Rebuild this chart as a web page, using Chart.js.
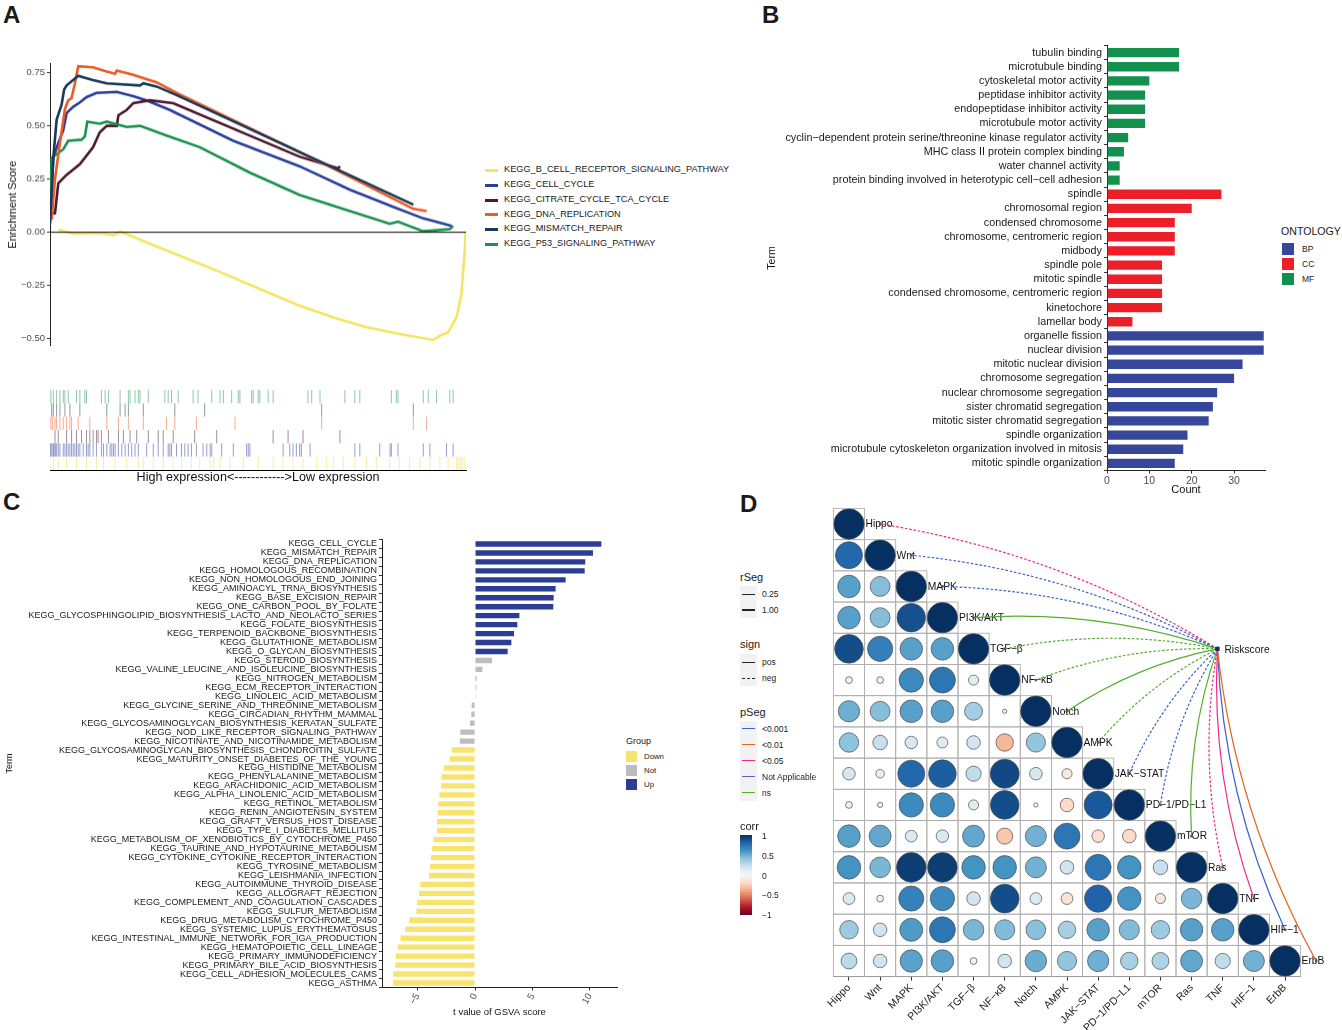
<!DOCTYPE html>
<html><head><meta charset="utf-8">
<script src="https://cdn.jsdelivr.net/npm/chart.js@4.4.1/dist/chart.umd.min.js"></script>
<style>
body{margin:0;width:1342px;height:1030px;background:#fff;position:relative;overflow:hidden;font-family:"Liberation Sans",Arial,Helvetica,sans-serif;color:#1a1a1a}
.w{position:absolute}
.t{position:absolute;white-space:nowrap;line-height:1;transform:translateY(-50%)}
.b{position:absolute}
.L{position:absolute;font-weight:bold;font-size:24px;line-height:1}
</style></head><body>

<div class="L" style="left:3px;top:3px">A</div>
<div class="L" style="left:762px;top:3px">B</div>
<div class="L" style="left:3px;top:490px">C</div>
<div class="L" style="left:740px;top:492px">D</div>

<div class="w" style="left:0;top:56.3px;width:470px;height:296.4px"><canvas id="cA"></canvas></div>
<div class="w" style="left:0;top:385px;width:470px;height:105px"><canvas id="cRug"></canvas></div>
<div class="w" style="left:762px;top:36.5px;width:508px;height:463.5px"><canvas id="cB"></canvas></div>
<div class="w" style="left:0;top:530px;width:625px;height:500px"><canvas id="cC"></canvas></div>
<div class="w" style="left:800px;top:500px;width:542px;height:530px"><canvas id="cD"></canvas></div>

<div id="legA"></div>
<div id="legB"></div>
<div id="legC"></div>
<div id="legD"></div>

<script>
// ---------------- Panel A data ----------------
const seriesNamesA = ['KEGG_B_CELL_RECEPTOR_SIGNALING_PATHWAY','KEGG_CELL_CYCLE','KEGG_CITRATE_CYCLE_TCA_CYCLE','KEGG_DNA_REPLICATION','KEGG_MISMATCH_REPAIR','KEGG_P53_SIGNALING_PATHWAY'];
const seriesColorsA = ['#F7E463','#2C3F9C','#4D1A2F','#F05A24','#193A58','#1B9150'];
const esBCell = [[2.0,0.013],[5.6,-0.006],[12.0,-0.003],[15.3,-0.014],[16.9,0.003],[20.1,-0.022],[28.1,-0.085],[40.2,-0.18],[52.2,-0.28],[60.2,-0.345],[68.3,-0.40],[76.3,-0.446],[84.3,-0.478],[92.4,-0.506],[94.0,-0.486],[96.0,-0.47],[98.0,-0.40],[99.2,-0.29],[100.0,-0.085],[100.2,0]];
const esCellCycle = [[0,0.05],[0.8,0.35],[2.0,0.42],[3.2,0.48],[4.0,0.56],[5.6,0.59],[7.2,0.61],[8.8,0.635],[11.2,0.655],[16.1,0.66],[20.1,0.64],[23.3,0.62],[28.9,0.575],[44.2,0.43],[60.2,0.31],[72.3,0.20],[82.7,0.12],[90.0,0.065],[96.8,0.03]];
const esTCA = [[0.4,0.09],[1.2,0.09],[2.0,0.23],[4.0,0.27],[7.2,0.32],[10.4,0.40],[12.0,0.47],[13.7,0.50],[16.1,0.50],[16.5,0.55],[18.5,0.575],[20.1,0.607],[24.1,0.62],[29.7,0.607],[60.2,0.355],[69.5,0.30],[69.9,0.31]];
const esDNARep = [[0.4,0.06],[1.2,0.25],[2.4,0.42],[3.6,0.58],[4.4,0.62],[5.2,0.63],[6.0,0.70],[6.8,0.78],[10.4,0.775],[13.7,0.755],[15.7,0.745],[16.1,0.76],[20.1,0.74],[25.7,0.705],[30.5,0.655],[68.3,0.30],[87.6,0.11],[90.8,0.10]];
const esMismatch = [[0,0.04],[0.8,0.35],[1.6,0.53],[2.8,0.60],[3.4,0.67],[4.0,0.69],[6.8,0.735],[10.4,0.715],[13.7,0.70],[21.7,0.69],[22.5,0.70],[25.7,0.685],[30.5,0.645],[87.6,0.13]];
const esP53 = [[0,0.10],[0.4,0.35],[3.2,0.39],[4.4,0.43],[7.6,0.435],[8.4,0.45],[9.0,0.52],[12.0,0.51],[13.7,0.52],[18.5,0.495],[21.7,0.50],[28.1,0.455],[36.1,0.40],[48.2,0.28],[60.2,0.175],[72.3,0.10],[81.9,0.04],[83.9,0.05],[90.0,0.005],[96.4,0.015],[97.2,0.03]];
const yTicksA = [-0.5,-0.25,0,0.25,0.5,0.75];

// rug hit positions (rank position, 0-100), top row first
const rugP53 = [0.2,0.8,1.6,2.4,3.2,3.6,4.4,6.4,7.2,8.4,8.8,12.4,13.3,14.1,16.9,18.9,19.3,20.5,21.3,21.7,23.7,27.7,28.5,29.3,30.9,34.5,35.7,39.0,41.0,41.8,43.8,45.4,45.8,48.6,49.0,50.2,50.6,52.6,53.8,62.2,63.1,65.1,71.1,73.5,74.7,82.3,83.5,83.9,90.0,91.2,93.2,96.4,97.2];
const rugMismatch = [0.4,0.8,1.6,2.4,3.6,4.8,7.2,13.7,16.9,18.1,18.9,22.5,30.1,37.3,65.5,87.6];
const rugDNARep = [0.2,0.6,1.2,1.6,2.4,3.2,4.0,4.8,5.2,6.8,9.6,13.7,16.5,18.9,22.5,28.1,30.1,35.3,44.6,65.5,87.6,90.8];
const rugTCA = [1.2,2.0,4.0,5.2,6.4,7.6,8.8,9.6,10.4,11.2,11.6,12.4,14.1,16.5,17.7,19.3,20.9,23.7,26.1,27.3,29.7,34.9,40.2,53.8,57.4,61.0,69.9];
const rugCellCycle = [0,0.2,0.5,0.8,1.0,1.3,1.6,2.0,2.4,3.2,3.6,4.0,4.4,4.8,5.2,5.6,6.0,6.4,6.8,7.2,8.0,8.8,9.2,9.6,10.4,11.2,12.4,12.9,13.7,14.5,14.9,15.3,15.7,16.5,17.3,18.1,18.9,19.7,20.5,21.3,23.3,24.9,26.1,27.3,28.5,28.9,29.3,30.5,31.7,32.5,33.3,34.1,35.3,36.9,37.8,38.6,39.0,41.4,44.2,47.4,47.8,48.2,56.2,57.8,58.6,59.4,60.2,60.6,62.7,73.5,74.7,79.5,82.0,82.3,83.9,90.0,91.6,95.6,97.2];
const rugBCell = [0.8,2.0,4.0,6.4,8.8,11.2,12.9,15.7,18.5,21.3,22.5,24.9,27.3,29.7,31.7,34.1,36.1,38.6,39.4,41.0,43.4,46.6,50.2,53.8,56.2,58.6,61.0,64.3,66.7,68.3,70.7,73.5,76.3,78.7,81.9,84.3,86.7,89.2,91.6,94.0,96.0,98.0,98.4,98.8,99.2,99.6,100.0];

// ---------------- Panel B data ----------------
const termsB = ['tubulin binding','microtubule binding','cytoskeletal motor activity','peptidase inhibitor activity','endopeptidase inhibitor activity','microtubule motor activity','cyclin\u2212dependent protein serine/threonine kinase regulator activity','MHC class II protein complex binding','water channel activity','protein binding involved in heterotypic cell\u2212cell adhesion','spindle','chromosomal region','condensed chromosome','chromosome, centromeric region','midbody','spindle pole','mitotic spindle','condensed chromosome, centromeric region','kinetochore','lamellar body','organelle fission','nuclear division','mitotic nuclear division','chromosome segregation','nuclear chromosome segregation','sister chromatid segregation','mitotic sister chromatid segregation','spindle organization','microtubule cytoskeleton organization involved in mitosis','mitotic spindle organization'];
const countsB = [17,17,10,9,9,9,5,4,3,3,27,20,16,16,16,13,13,13,13,6,37,37,32,30,26,25,24,19,18,16];
const ontologyB = ['MF','MF','MF','MF','MF','MF','MF','MF','MF','MF','CC','CC','CC','CC','CC','CC','CC','CC','CC','CC','BP','BP','BP','BP','BP','BP','BP','BP','BP','BP'];
const ontologyLevels = ['BP','CC','MF'];
const ontologyColors = {BP:'#36469A',CC:'#EC1E27',MF:'#13914C'};
const xTicksB = [0,10,20,30];

// ---------------- Panel C data ----------------
const termsC = ['KEGG_CELL_CYCLE','KEGG_MISMATCH_REPAIR','KEGG_DNA_REPLICATION','KEGG_HOMOLOGOUS_RECOMBINATION','KEGG_NON_HOMOLOGOUS_END_JOINING','KEGG_AMINOACYL_TRNA_BIOSYNTHESIS','KEGG_BASE_EXCISION_REPAIR','KEGG_ONE_CARBON_POOL_BY_FOLATE','KEGG_GLYCOSPHINGOLIPID_BIOSYNTHESIS_LACTO_AND_NEOLACTO_SERIES','KEGG_FOLATE_BIOSYNTHESIS','KEGG_TERPENOID_BACKBONE_BIOSYNTHESIS','KEGG_GLUTATHIONE_METABOLISM','KEGG_O_GLYCAN_BIOSYNTHESIS','KEGG_STEROID_BIOSYNTHESIS','KEGG_VALINE_LEUCINE_AND_ISOLEUCINE_BIOSYNTHESIS','KEGG_NITROGEN_METABOLISM','KEGG_ECM_RECEPTOR_INTERACTION','KEGG_LINOLEIC_ACID_METABOLISM','KEGG_GLYCINE_SERINE_AND_THREONINE_METABOLISM','KEGG_CIRCADIAN_RHYTHM_MAMMAL','KEGG_GLYCOSAMINOGLYCAN_BIOSYNTHESIS_KERATAN_SULFATE','KEGG_NOD_LIKE_RECEPTOR_SIGNALING_PATHWAY','KEGG_NICOTINATE_AND_NICOTINAMIDE_METABOLISM','KEGG_GLYCOSAMINOGLYCAN_BIOSYNTHESIS_CHONDROITIN_SULFATE','KEGG_MATURITY_ONSET_DIABETES_OF_THE_YOUNG','KEGG_HISTIDINE_METABOLISM','KEGG_PHENYLALANINE_METABOLISM','KEGG_ARACHIDONIC_ACID_METABOLISM','KEGG_ALPHA_LINOLENIC_ACID_METABOLISM','KEGG_RETINOL_METABOLISM','KEGG_RENIN_ANGIOTENSIN_SYSTEM','KEGG_GRAFT_VERSUS_HOST_DISEASE','KEGG_TYPE_I_DIABETES_MELLITUS','KEGG_METABOLISM_OF_XENOBIOTICS_BY_CYTOCHROME_P450','KEGG_TAURINE_AND_HYPOTAURINE_METABOLISM','KEGG_CYTOKINE_CYTOKINE_RECEPTOR_INTERACTION','KEGG_TYROSINE_METABOLISM','KEGG_LEISHMANIA_INFECTION','KEGG_AUTOIMMUNE_THYROID_DISEASE','KEGG_ALLOGRAFT_REJECTION','KEGG_COMPLEMENT_AND_COAGULATION_CASCADES','KEGG_SULFUR_METABOLISM','KEGG_DRUG_METABOLISM_CYTOCHROME_P450','KEGG_SYSTEMIC_LUPUS_ERYTHEMATOSUS','KEGG_INTESTINAL_IMMUNE_NETWORK_FOR_IGA_PRODUCTION','KEGG_HEMATOPOIETIC_CELL_LINEAGE','KEGG_PRIMARY_IMMUNODEFICIENCY','KEGG_PRIMARY_BILE_ACID_BIOSYNTHESIS','KEGG_CELL_ADHESION_MOLECULES_CAMS','KEGG_ASTHMA'];
const tValuesC = [10.99,10.26,9.59,9.54,7.88,7.01,6.84,6.81,3.86,3.68,3.39,3.16,2.84,1.48,0.64,0.15,0.12,0.02,-0.29,-0.32,-0.43,-1.28,-1.32,-2.03,-2.2,-2.72,-2.93,-2.95,-3.1,-3.2,-3.24,-3.31,-3.31,-3.62,-3.73,-3.83,-3.9,-4.0,-4.76,-4.87,-5.04,-5.1,-5.73,-6.07,-6.49,-6.73,-6.9,-6.94,-7.11,-7.14];
const groupC = ['Up','Up','Up','Up','Up','Up','Up','Up','Up','Up','Up','Up','Up','Not','Not','Not','Not','Not','Not','Not','Not','Not','Not','Down','Down','Down','Down','Down','Down','Down','Down','Down','Down','Down','Down','Down','Down','Down','Down','Down','Down','Down','Down','Down','Down','Down','Down','Down','Down','Down'];
const groupLevels = ['Down','Not','Up'];
const groupColors = {Down:'#F8E36E',Not:'#BDBDBD',Up:'#2B3D94'};
const xTicksC = [-5,0,5,10];

// ---------------- Panel D data ----------------
const pathwaysD = ['Hippo','Wnt','MAPK','PI3K/AKT','TGF\u2212\u03B2','NF\u2212\u03BAB','Notch','AMPK','JAK\u2212STAT','PD\u22121/PD\u2212L1','mTOR','Ras','TNF','HIF\u22121','ErbB'];
const corrD = [
 [1],
 [0.79,1],
 [0.55,0.43,1],
 [0.55,0.43,0.88,1],
 [0.89,0.69,0.55,0.55,1],
 [0.05,-0.05,0.64,0.73,0.11,1],
 [0.49,0.43,0.55,0.55,0.35,0.02,1],
 [0.41,0.23,0.17,0.13,0.2,-0.33,0.4,1],
 [0.17,0.08,0.79,0.83,0.25,0.91,0.17,-0.11,1],
 [0.05,0.03,0.64,0.64,0.11,0.89,0.02,-0.2,0.85,1],
 [0.55,0.52,0.15,0.17,0.52,-0.28,0.48,0.73,-0.17,-0.2,1],
 [0.6,0.46,0.95,0.95,0.6,0.6,0.48,0.2,0.73,0.6,0.23,1],
 [0.15,0.05,0.68,0.64,0.2,0.89,0.15,-0.15,0.81,0.6,-0.11,0.46,1],
 [0.37,0.2,0.57,0.73,0.46,0.44,0.42,0.33,0.55,0.44,0.37,0.55,0.55,1],
 [0.27,0.2,0.54,0.55,0.05,0.2,0.5,0.4,0.49,0.33,0.31,0.52,0.25,0.48,1]
];
const linkPD = ['<0.05','<0.001','<0.001','ns','ns','ns','ns','ns','<0.001','<0.001','ns','<0.05','<0.05','<0.001','<0.01'];
const linkSignD = ['neg','neg','neg','pos','neg','neg','pos','neg','neg','neg','pos','neg','pos','pos','pos'];
const pLevels = ['<0.001','<0.01','<0.05','Not Applicable','ns'];
const pColors = {'<0.001':'#3D63C9','<0.01':'#E8641C','<0.05':'#F02882','Not Applicable':'#7357C6','ns':'#55AE2E'};
const corrTicks = ['1','0.5','0','\u22120.5','\u22121'];
const riskNode = {x:11.83, y:4.0, label:'Riskscore'};

// ---------------- helpers ----------------
Chart.defaults.font.family = '"Liberation Sans", Arial, Helvetica, sans-serif';
Chart.defaults.animation = false;
Chart.defaults.events = [];
Chart.defaults.layout.autoPadding = false;
Chart.defaults.plugins.legend.display = false;
Chart.defaults.plugins.tooltip.enabled = false;
const axisLine = {display:true,color:'#222',width:1};
const tickGrid = {display:true,drawOnChartArea:false,drawTicks:true,tickLength:3,tickColor:'#333'};
const fixTicks = arr => (s => { s.ticks = arr.map(v => ({value:v})); });
const minusFmt = v => (v < 0 ? '\u2212' : '') + Math.abs(v);

const rdbu = ['#67001F','#B2182B','#D6604D','#F4A582','#FDDBC7','#F7F7F7','#D1E5F0','#92C5DE','#4393C3','#2166AC','#053061'];
function hexRgb(h){return [parseInt(h.substr(1,2),16),parseInt(h.substr(3,2),16),parseInt(h.substr(5,2),16)];}
function corrColor(v){
  const p = (v+1)/2*10; const i = Math.max(0,Math.min(9,Math.floor(p))); const f = p-i;
  const a = hexRgb(rdbu[i]), b = hexRgb(rdbu[i+1]);
  return 'rgb('+a.map((c,k)=>Math.round(c+(b[k]-c)*f)).join(',')+')';
}
function alpha(h,a){const c=hexRgb(h);return 'rgba('+c.join(',')+','+a+')';}

// ---------------- Chart A ----------------
const seriesA = [esBCell, esCellCycle, esTCA, esDNARep, esMismatch, esP53];
const drawOrderA = [6,5,4,2,1,3];
new Chart(document.getElementById('cA'), {
  type:'line',
  data:{datasets:[
    ...seriesA.map((s,i)=>({label:seriesNamesA[i], data:s.map(p=>({x:p[0],y:p[1]})), borderColor:seriesColorsA[i], borderWidth:2.6, pointRadius:0, tension:0, order:drawOrderA[i]})),
    {label:'zero', data:[{x:0,y:0},{x:100.3,y:0}], borderColor:'#000', borderWidth:1, pointRadius:0, order:0}
  ]},
  options:{responsive:true, maintainAspectRatio:false,
    layout:{padding:{left:0,top:0,right:4,bottom:0}},
    scales:{
      x:{type:'linear',min:0,max:100.3,display:false},
      y:{min:-0.533,max:0.792,afterBuildTicks:fixTicks(yTicksA),afterFit:s=>{s.width=50;},
         ticks:{color:'#4D4D4D',font:{size:9.5},padding:2,callback:v=>(v<0?'\u2212':'')+Math.abs(v).toFixed(2)},
         grid:tickGrid,border:axisLine,
         title:{display:true,text:'Enrichment Score',color:'#111',font:{size:11},padding:{top:6,bottom:0}}}
    }
  }
});

// ---------------- Rug ----------------
const rugRows = [rugP53, rugMismatch, rugDNARep, rugTCA, rugCellCycle, rugBCell];
const rugColors = ['#1B9150','#193A58','#F05A24','#4D1A2F','#2C3F9C','#F2D92E'];
new Chart(document.getElementById('cRug'), {
  type:'scatter',
  data:{datasets: rugRows.map((r,i)=>({data:r.map(v=>({x:v,y:i})), pointStyle:'line', pointRadius:6.6, pointRotation:90, borderColor:alpha(rugColors[i], i===5?0.45:0.5), pointBorderColor:alpha(rugColors[i], i===5?0.45:0.5), borderWidth:1, pointBorderWidth:1}))},
  options:{responsive:true, maintainAspectRatio:false,
    layout:{padding:{left:50,top:5,right:4,bottom:0}},
    scales:{
      x:{type:'linear',min:0,max:100.3,afterFit:s=>{s.height=20;},ticks:{display:false},grid:{display:false},border:{display:true,color:'#000',width:1},
         title:{display:true,text:'High expression<------------>Low expression',color:'#111',font:{size:12.6},padding:{top:0,bottom:5}}},
      y:{min:-0.5,max:5.5,reverse:true,display:false}
    }
  }
});

// ---------------- Chart B ----------------
new Chart(document.getElementById('cB'), {
  type:'bar',
  data:{labels:termsB, datasets:[{data:countsB, backgroundColor:ontologyB.map(o=>ontologyColors[o]), barPercentage:0.66, categoryPercentage:1}]},
  options:{indexAxis:'y', responsive:true, maintainAspectRatio:false,
    layout:{padding:{left:0,top:0,right:5,bottom:0}},
    scales:{
      x:{type:'linear',min:0,max:37.3,afterBuildTicks:fixTicks(xTicksB),afterFit:s=>{s.height=30;},
         ticks:{color:'#4D4D4D',font:{size:10.5},padding:1},grid:tickGrid,border:axisLine,
         title:{display:true,text:'Count',color:'#111',font:{size:11},padding:{top:0,bottom:4}}},
      y:{afterFit:s=>{s.width=345;},ticks:{autoSkip:false,color:'#1a1a1a',font:{size:10.8},padding:2},grid:tickGrid,border:axisLine,
         title:{display:true,text:'Term',color:'#111',font:{size:10.5},padding:{top:4,bottom:0}}}
    }
  }
});

// ---------------- Chart C ----------------
new Chart(document.getElementById('cC'), {
  type:'bar',
  data:{labels:termsC, datasets:[{data:tValuesC, backgroundColor:groupC.map(g=>groupColors[g]), barPercentage:0.6, categoryPercentage:1}]},
  options:{indexAxis:'y', responsive:true, maintainAspectRatio:false,
    layout:{padding:{left:0,top:9.5,right:8,bottom:0}},
    scales:{
      x:{type:'linear',min:-8.09,max:12.35,afterBuildTicks:fixTicks(xTicksC),afterFit:s=>{s.height=42.5;},
         ticks:{color:'#4D4D4D',font:{size:9.5},padding:1,minRotation:60,maxRotation:60,callback:minusFmt},grid:tickGrid,border:axisLine,
         title:{display:true,text:'t value of GSVA score',color:'#111',font:{size:9.5},padding:{top:0,bottom:12}}},
      y:{afterFit:s=>{s.width=382;},ticks:{autoSkip:false,color:'#1a1a1a',font:{size:9},padding:2},grid:tickGrid,border:axisLine,
         title:{display:true,text:'Term',color:'#111',font:{size:9},padding:{top:4,bottom:0}}}
    }
  }
});

// ---------------- Chart D ----------------
const cellsD = [];
corrD.forEach((row,i)=>row.forEach((v,j)=>cellsD.push({x:j,y:i,v:v})));
const plugD = {
  id:'plugD',
  beforeDatasetsDraw(c){
    const {ctx, scales:{x,y}} = c;
    const w = x.getPixelForValue(1)-x.getPixelForValue(0), h = y.getPixelForValue(1)-y.getPixelForValue(0);
    ctx.save(); ctx.strokeStyle='#AFAFAF'; ctx.lineWidth=0.9;
    corrD.forEach((row,i)=>row.forEach((v,j)=>{
      ctx.strokeRect(x.getPixelForValue(j)-w/2, y.getPixelForValue(i)-h/2, w, h);
    }));
    ctx.restore();
  },
  afterDatasetsDraw(c){
    const {ctx, scales:{x,y}} = c;
    ctx.save();
    ctx.font = '10.3px "Liberation Sans", Arial, sans-serif'; ctx.fillStyle='#111'; ctx.textAlign='left'; ctx.textBaseline='middle';
    pathwaysD.forEach((n,i)=>ctx.fillText(n, x.getPixelForValue(i)+16.5, y.getPixelForValue(i)+0.5));
    const sx = x.getPixelForValue(riskNode.x), sy = y.getPixelForValue(riskNode.y);
    pathwaysD.forEach((n,i)=>{
      const tx = x.getPixelForValue(i+1), ty = y.getPixelForValue(i);
      const dx = tx-sx, dy = ty-sy;
      const cx = (sx+tx)/2 - 0.1*dy, cy = (sy+ty)/2 + 0.1*dx;
      ctx.beginPath(); ctx.moveTo(sx,sy); ctx.quadraticCurveTo(cx,cy,tx,ty);
      ctx.strokeStyle = pColors[linkPD[i]]; ctx.lineWidth = 1.2;
      ctx.setLineDash(linkSignD[i]==='neg'?[2.6,1.8]:[]);
      ctx.stroke();
      ctx.setLineDash([]);
      ctx.beginPath(); ctx.arc(tx,ty,1.4,0,Math.PI*2); ctx.fillStyle='#555'; ctx.fill();
    });
    ctx.fillStyle='#1B2F5E'; ctx.fillRect(sx-2.2,sy-2.2,4.4,4.4);
    ctx.fillStyle='#111'; ctx.font='10.3px "Liberation Sans", Arial, sans-serif';
    ctx.fillText(riskNode.label, sx+7, sy+1);
    ctx.restore();
  }
};
new Chart(document.getElementById('cD'), {
  type:'scatter',
  data:{datasets:[{data:cellsD,
    pointRadius:ctx=>ctx.raw?15.2*Math.sqrt(Math.abs(ctx.raw.v)):0,
    backgroundColor:ctx=>ctx.raw?corrColor(ctx.raw.v):'#fff',
    pointBackgroundColor:ctx=>ctx.raw?corrColor(ctx.raw.v):'#fff',
    pointBorderColor:'#4A4A4A', borderColor:'#4A4A4A', pointBorderWidth:0.7, borderWidth:0.7}]},
  options:{responsive:true, maintainAspectRatio:false,
    layout:{padding:{left:33.4,top:8.4,right:41.4,bottom:0}},
    scales:{
      x:{type:'linear',min:-0.5,max:14.5,afterBuildTicks:fixTicks(pathwaysD.map((_,i)=>i)),afterFit:s=>{s.height=53.4;},
         ticks:{autoSkip:false,minRotation:45,maxRotation:45,color:'#1a1a1a',font:{size:10.5},padding:1,callback:v=>pathwaysD[v]},
         grid:{display:true,drawOnChartArea:false,drawTicks:true,tickLength:4,tickColor:'#333'},border:{display:true,color:'#333',width:1}},
      y:{min:-0.5,max:14.5,reverse:true,display:false}
    }
  },
  plugins:[plugD]
});

// ---------------- HTML legends ----------------
function el(parent, html){parent.insertAdjacentHTML('beforeend', html);}
const legA = document.getElementById('legA');
const legAY = [170,185,200,214.5,229,244];
seriesNamesA.forEach((n,i)=>{
  el(legA, `<div class="b" style="left:485px;top:${legAY[i]-1.5}px;width:13px;height:3px;background:${seriesColorsA[i]}"></div>`);
  el(legA, `<div class="t" style="left:504px;top:${legAY[i]}px;font-size:9.2px">${n}</div>`);
});
const legB = document.getElementById('legB');
el(legB, `<div class="t" style="left:1281px;top:231px;font-size:10.6px">ONTOLOGY</div>`);
ontologyLevels.forEach((o,i)=>{
  el(legB, `<div class="b" style="left:1282px;top:${243+i*15}px;width:12px;height:12px;background:${ontologyColors[o]}"></div>`);
  el(legB, `<div class="t" style="left:1302px;top:${249+i*15}px;font-size:8.5px">${o}</div>`);
});
const legC = document.getElementById('legC');
el(legC, `<div class="t" style="left:626px;top:741px;font-size:9px">Group</div>`);
groupLevels.forEach((g,i)=>{
  el(legC, `<div class="b" style="left:626px;top:${751+i*14}px;width:11px;height:11px;background:${groupColors[g]}"></div>`);
  el(legC, `<div class="t" style="left:644px;top:${756.5+i*14}px;font-size:7.8px">${g}</div>`);
});
const legD = document.getElementById('legD');
function keyLine(y, color, width, dash){
  el(legD, `<div class="b" style="left:740px;top:${y-8}px;width:17px;height:16px;background:#F2F2F2"></div>`);
  el(legD, `<div class="b" style="left:742px;top:${y-width/2}px;width:13px;height:0;border-top:${width}px ${dash?'dashed':'solid'} ${color}"></div>`);
}
el(legD, `<div class="t" style="left:740px;top:577px;font-size:11px">rSeg</div>`);
keyLine(594,'#222',1,false); el(legD, `<div class="t" style="left:762px;top:594px;font-size:8.5px">0.25</div>`);
keyLine(610,'#222',2,false); el(legD, `<div class="t" style="left:762px;top:610px;font-size:8.5px">1.00</div>`);
el(legD, `<div class="t" style="left:740px;top:644px;font-size:11px">sign</div>`);
keyLine(662,'#222',1,false); el(legD, `<div class="t" style="left:762px;top:662px;font-size:8.5px">pos</div>`);
keyLine(678,'#222',1,true); el(legD, `<div class="t" style="left:762px;top:678px;font-size:8.5px">neg</div>`);
el(legD, `<div class="t" style="left:740px;top:712px;font-size:11px">pSeg</div>`);
pLevels.forEach((p,i)=>{
  keyLine(729+i*16, pColors[p], 1.2, false);
  el(legD, `<div class="t" style="left:762px;top:${729+i*16}px;font-size:8.5px">${p.replace('<','&lt;')}</div>`);
});
el(legD, `<div class="t" style="left:740px;top:826px;font-size:11px">corr</div>`);
el(legD, `<div class="b" style="left:740px;top:835px;width:12px;height:80px;background:linear-gradient(to bottom, ${rdbu.slice().reverse().join(',')})"></div>`);
corrTicks.forEach((s,i)=>el(legD, `<div class="t" style="left:762px;top:${836+i*19.8}px;font-size:8.5px">${s}</div>`));
</script>
</body></html>
